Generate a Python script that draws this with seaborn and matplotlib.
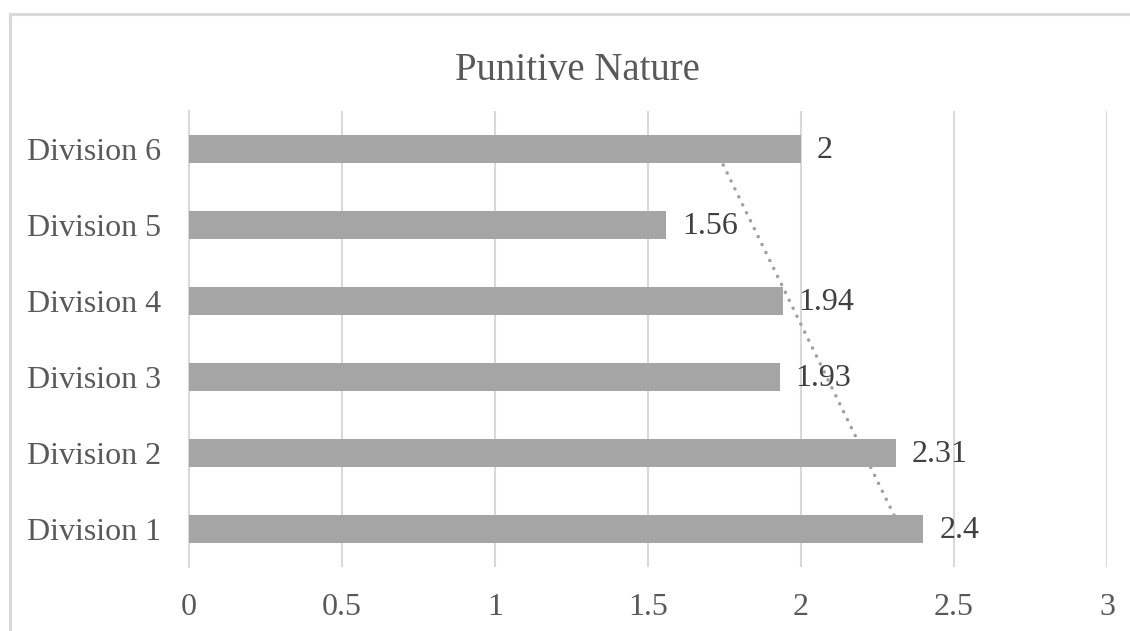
import numpy as np
import pandas as pd
import matplotlib
matplotlib.use("Agg")
import matplotlib.pyplot as plt
from matplotlib.patches import Rectangle
import seaborn as sns

# Data
divisions = ["Division 6", "Division 5", "Division 4", "Division 3", "Division 2", "Division 1"]
scores = [2.0, 1.56, 1.94, 1.93, 2.31, 2.4]
value_labels = ["2", "1.56", "1.94", "1.93", "2.31", "2.4"]
x_ticks = [0, 0.5, 1, 1.5, 2, 2.5, 3]
x_tick_labels = ["0", "0.5", "1", "1.5", "2", "2.5", "3"]
title = "Punitive Nature"

sns.set_theme(style="white")
plt.rcParams["font.family"] = ["Liberation Serif", "DejaVu Serif"]

BAR = "#A5A5A5"
GRID = "#D9D9D9"

fig = plt.figure(figsize=(11.3, 6.31), dpi=100)
ax = fig.add_axes([0.1673, 0.1014, 0.8123, 0.7227])

df = pd.DataFrame({"division": divisions, "score": scores})
sns.barplot(data=df, x="score", y="division", order=divisions, color=BAR,
            saturation=1, width=0.36, linewidth=0, ax=ax, zorder=3)

# Linear trendline (Excel-style: categories numbered 1..6 from the bottom)
cat_num = np.array([len(divisions) - i for i in range(len(divisions))], dtype=float)
slope, intercept = np.polyfit(cat_num, np.array(scores), 1)
pos = np.arange(len(divisions))
trend = slope * cat_num + intercept
ax.plot(trend[[0, -1]], pos[[0, -1]], color="#A0A0A0", linewidth=2.5,
        linestyle=(0, (0.05, 2.5)), dash_capstyle="round", zorder=2)

# Value labels
for p, v, lab in zip(pos, scores, value_labels):
    ax.text(v + 0.052, p + 0.02, lab, va="center", ha="left",
            fontsize=23, color="#404040", zorder=4)

ax.set_xlim(0, 3)
ax.set_ylim(len(divisions) - 0.5, -0.5)
ax.set_xticks(x_ticks)
ax.set_xticklabels(x_tick_labels)
ax.xaxis.grid(True, color=GRID, linewidth=1.5, zorder=0)
ax.yaxis.grid(False)
ax.set_axisbelow(True)
for s in ["top", "right", "bottom"]:
    ax.spines[s].set_visible(False)
ax.spines["left"].set_color(GRID)
ax.spines["left"].set_linewidth(1.5)
ax.tick_params(axis="both", length=0, labelsize=23, labelcolor="#595959")
ax.tick_params(axis="y", pad=20)
ax.tick_params(axis="x", pad=19)
ax.set_xlabel("")
ax.set_ylabel("")

fig.text(0.5106, 0.889, title, ha="center", va="center", fontsize=28, color="#595959")

# Chart-area border
fig.patches.append(Rectangle((10 / 1130, -0.1), 1.2, (631 - 13.5) / 631 + 0.1,
                             transform=fig.transFigure, fill=False,
                             edgecolor=GRID, linewidth=2.2))

fig.savefig("out.png", dpi=100, facecolor="white")
